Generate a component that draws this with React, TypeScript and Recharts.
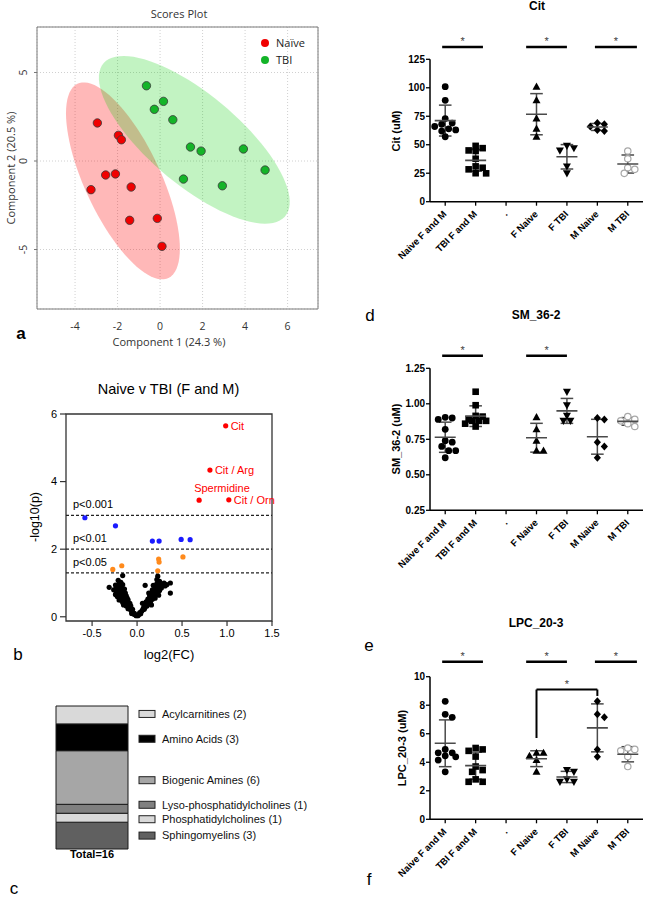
import React from "react";
import {
  ScatterChart,
  Scatter,
  XAxis,
  YAxis,
  CartesianGrid,
  ReferenceArea,
  ReferenceLine,
  ErrorBar,
  BarChart,
  Bar,
  LabelList,
} from "recharts";

const SANS = "'Liberation Sans', Arial, sans-serif";
const OPEN = "'Open Sans', 'Noto Sans', sans-serif";

// ---- a: PLS-DA scores (component 1 / component 2)
const naiveC1 = [-2.95, -1.96, -1.82, -2.56, -2.1, -3.25, -1.36, -1.43, -0.13, 0.09];
const naiveC2 = [2.15, 1.45, 1.2, -0.79, -0.73, -1.62, -1.47, -3.35, -3.24, -4.82];
const tbiC1 = [-0.64, 0.16, -0.27, 0.6, 1.43, 1.93, 3.92, 4.94, 1.1, 2.93];
const tbiC2 = [4.25, 3.37, 2.92, 2.33, 0.79, 0.56, 0.68, -0.51, -1.02, -1.4];

// ---- b: volcano, log2(FC) / -log10(p)
const hitNames = ["Cit", "Cit / Arg", "Spermidine", "Cit / Orn"];
const hitFC = [0.985, 0.81, 0.69, 1.02];
const hitP = [5.65, 4.34, 3.45, 3.46];
const p01FC = [-0.58, -0.24, 0.17, 0.245, 0.49, 0.59];
const p01P = [2.93, 2.69, 2.24, 2.24, 2.29, 2.28];
const p05FC = [-0.27, -0.17, 0.24, 0.245, 0.23, 0.51];
const p05P = [1.4, 1.51, 1.71, 1.62, 1.36, 1.77];
const nsPoints: [number, number][] = [
  [-0.01, 0.03], [-0.02, 0.06], [-0.03, 0.1], [-0.04, 0.08], [-0.05, 0.14], [-0.06, 0.18],
  [-0.05, 0.22], [-0.07, 0.2], [-0.08, 0.26], [-0.09, 0.3], [-0.1, 0.24], [-0.1, 0.35],
  [-0.11, 0.4], [-0.12, 0.32], [-0.12, 0.46], [-0.13, 0.38], [-0.13, 0.52], [-0.14, 0.44],
  [-0.14, 0.6], [-0.15, 0.5], [-0.15, 0.66], [-0.16, 0.42], [-0.16, 0.56], [-0.16, 0.72],
  [-0.17, 0.62], [-0.17, 0.8], [-0.18, 0.5], [-0.18, 0.68], [-0.18, 0.9], [-0.19, 0.58],
  [-0.19, 0.75], [-0.2, 0.64], [-0.2, 0.84], [-0.2, 0.98], [-0.21, 0.7], [-0.21, 1.08],
  [-0.22, 0.78], [-0.22, 0.6], [-0.23, 0.86], [-0.23, 0.72], [-0.24, 0.66], [-0.24, 0.94],
  [-0.16, 1.22], [-0.16, 0.95], [-0.14, 0.82], [-0.12, 0.62], [-0.1, 0.5], [-0.08, 0.4],
  [-0.31, 0.87], [-0.26, 0.8], [-0.13, 0.7], [-0.11, 0.55], [-0.07, 0.32], [-0.06, 0.1],
  [-0.15, 0.35], [-0.2, 0.5], [-0.18, 1.02], [-0.21, 0.9],
  [0.01, 0.03], [0.02, 0.07], [0.03, 0.12], [0.04, 0.09], [0.05, 0.16], [0.06, 0.2],
  [0.07, 0.26], [0.08, 0.22], [0.08, 0.32], [0.09, 0.28], [0.1, 0.36], [0.1, 0.44],
  [0.11, 0.32], [0.12, 0.42], [0.12, 0.52], [0.13, 0.38], [0.14, 0.5], [0.14, 0.62],
  [0.15, 0.45], [0.15, 0.7], [0.16, 0.58], [0.17, 0.52], [0.17, 0.8], [0.18, 0.66],
  [0.18, 0.93], [0.19, 0.6], [0.2, 0.74], [0.2, 0.86], [0.21, 0.68], [0.22, 0.8],
  [0.22, 0.98], [0.23, 1.2], [0.23, 0.72], [0.24, 0.88], [0.25, 1.05], [0.25, 0.78],
  [0.26, 0.95], [0.27, 0.85], [0.28, 0.92], [0.3, 1.0], [0.31, 0.91], [0.33, 0.95],
  [0.37, 1.0], [0.37, 0.7], [0.09, 0.93], [0.16, 0.35], [0.2, 0.55], [0.24, 0.64],
  [0.13, 0.7], [0.22, 1.1], [0.06, 0.4],
];
const pCutoffs = [0.001, 0.01, 0.05];

// ---- c: metabolite classes (bottom of stack first)
const classNames = [
  "Sphingomyelins",
  "Phosphatidylcholines",
  "Lyso-phosphatidylcholines",
  "Biogenic Amines",
  "Amino Acids",
  "Acylcarnitines",
];
const classCounts = [3, 1, 1, 6, 3, 2];
const classFill = ["#606060", "#d9d9d9", "#808080", "#a6a6a6", "#000000", "#d9d9d9"];
const classLabelShift = [0, 1.5, -4, 2.7, 1.5, -1];

// ---- d, e, f: concentrations (uM)
const CATS = ["Naive F and M", "TBI F and M", ".", "F Naive", "F TBI", "M Naive", "M TBI"];
const KINDS = ["circle", "square", "", "triUp", "triDown", "diamond", "open"];

const citFNaive = [101, 89, 73, 64, 57];
const citMNaive = [69, 68, 66, 63, 62];
const citFTbi = [49, 47, 45, 31, 25];
const citMTbi = [44.5, 37.7, 29.8, 28.4, 24.9];

const smFNaive = [0.905, 0.82, 0.74, 0.67, 0.67];
const smMNaive = [0.89, 0.9, 0.73, 0.7, 0.62];
const smFTbi = [1.085, 0.99, 0.915, 0.88, 0.88];
const smMTbi = [0.91, 0.89, 0.88, 0.86, 0.84];

const lpcFNaive = [4.66, 4.66, 4.45, 4.15, 3.33];
const lpcMNaive = [8.27, 7.36, 7.15, 4.9, 4.38];
const lpcFTbi = [3.45, 3.33, 2.8, 2.63, 2.63];
const lpcMTbi = [5.0, 4.9, 4.8, 4.4, 3.7];

const SIG_SPANS: [number, number][] = [[-0.1, 1.24], [2.66, 4.0], [4.92, 6.3]];

const toXY = (xs: number[], ys: number[]) => xs.map((x, i) => ({ x, y: ys[i] }));
const mean = (a: number[]) => a.reduce((s, v) => s + v, 0) / a.length;
const sd = (a: number[]) => {
  const m = mean(a);
  return Math.sqrt(a.reduce((s, v) => s + (v - m) ** 2, 0) / (a.length - 1));
};

// 95% confidence ellipse of a group of score points
function confEllipse(pts: { x: number; y: number }[], k = 2.4477, n = 90) {
  const m = pts.length;
  const mx = pts.reduce((s, p) => s + p.x, 0) / m;
  const my = pts.reduce((s, p) => s + p.y, 0) / m;
  let sxx = 0, syy = 0, sxy = 0;
  pts.forEach((p) => {
    sxx += (p.x - mx) ** 2;
    syy += (p.y - my) ** 2;
    sxy += (p.x - mx) * (p.y - my);
  });
  sxx /= m - 1; syy /= m - 1; sxy /= m - 1;
  const tr = sxx + syy;
  const det = sxx * syy - sxy * sxy;
  const disc = Math.sqrt(Math.max(tr * tr / 4 - det, 0));
  const l1 = tr / 2 + disc, l2 = tr / 2 - disc;
  const th = Math.atan2(l1 - sxx, sxy);
  const a = k * Math.sqrt(l1), b = k * Math.sqrt(Math.max(l2, 0));
  const out = [];
  for (let i = 0; i <= n; i++) {
    const t = (2 * Math.PI * i) / n;
    const u = a * Math.cos(t), v = b * Math.sin(t);
    out.push({ x: mx + u * Math.cos(th) - v * Math.sin(th), y: my + u * Math.sin(th) + v * Math.cos(th) });
  }
  return out;
}

// horizontal spread of points that would overlap (scatter dot plot style)
function swarm(vals: number[], pxY: number, pxX: number, size = 7, maxDx = 11) {
  const order = vals.map((_, i) => i).sort((a, b) => vals[b] - vals[a]);
  const placed: { dx: number; y: number }[] = [];
  const off = vals.map(() => 0);
  const step = size * 0.5;
  order.forEach((i) => {
    const y = vals[i] * pxY;
    let best = 0, bestD = -1;
    for (let k = 0; k < 40; k++) {
      const dx = k === 0 ? 0 : (k % 2 ? 1 : -1) * Math.ceil(k / 2) * step;
      if (Math.abs(dx) > maxDx) break;
      const dmin = placed.reduce((m, p) => Math.min(m, Math.hypot(p.dx - dx, p.y - y)), Infinity);
      if (dmin >= size * 0.85) { best = dx; break; }
      if (dmin > bestD) { bestD = dmin; best = dx; }
    }
    placed.push({ dx: best, y });
    off[i] = best / pxX;
  });
  return off;
}

const ellipseLine = (fill: string) => (props: any) => {
  const pts = props.points || [];
  const d = pts.map((p: any, i: number) => `${i ? "L" : "M"}${p.x},${p.y}`).join("") + "Z";
  return <path d={d} fill={fill} stroke="none" />;
};

const scoreDot = (fill: string) => (p: any) => (
  <circle cx={p.cx} cy={p.cy} r={4.2} fill={fill} stroke="#3a3a3a" strokeWidth={0.8} />
);

const volcanoDot = (fill: string) => (p: any) => <circle cx={p.cx} cy={p.cy} r={2.6} fill={fill} />;

const hitDot = (p: any) => {
  const above = p.payload.name === "Spermidine";
  return (
    <g>
      <circle cx={p.cx} cy={p.cy} r={2.6} fill="#ff0000" />
      <text
        x={above ? p.cx - 5 : p.cx + 5}
        y={above ? p.cy - 8 : p.cy + 4}
        fontSize={11}
        fontFamily={SANS}
        fill="#ff0000"
      >
        {p.payload.name}
      </text>
    </g>
  );
};

function ScoreYTick(props: any) {
  const { x, y, payload } = props;
  return (
    <text x={x - 5} y={y} transform={`rotate(-90 ${x - 5} ${y})`} textAnchor="middle" fontSize={10.5} fill="#333" fontFamily={OPEN}>
      {payload.value}
    </text>
  );
}

function CatTick(props: any) {
  const { x, y, payload } = props;
  const tx = x + 2, ty = y + 7;
  return (
    <text x={tx} y={ty} transform={`rotate(-45 ${tx} ${ty})`} textAnchor="end" fontSize={9.5} fontWeight={700} fontFamily={SANS} fill="#000">
      {CATS[payload.value]}
    </text>
  );
}

function markerShape(kind: string) {
  return (p: any) => {
    const { cx, cy } = p;
    switch (kind) {
      case "circle":
        return <circle cx={cx} cy={cy} r={3.4} fill="#000" />;
      case "square":
        return <rect x={cx - 3.3} y={cy - 3.3} width={6.6} height={6.6} fill="#000" />;
      case "triUp":
        return <polygon points={`${cx},${cy - 4.2} ${cx - 4},${cy + 3} ${cx + 4},${cy + 3}`} fill="#000" />;
      case "triDown":
        return <polygon points={`${cx},${cy + 4.2} ${cx - 4},${cy - 3} ${cx + 4},${cy - 3}`} fill="#000" />;
      case "diamond":
        return <polygon points={`${cx},${cy - 4} ${cx + 3.6},${cy} ${cx},${cy + 4} ${cx - 3.6},${cy}`} fill="#000" />;
      default:
        return <circle cx={cx} cy={cy} r={3.2} fill="#fff" stroke="#a8a8a8" strokeWidth={1.2} />;
    }
  };
}

const meanShape = (p: any) => (
  <line x1={p.cx - 10.5} x2={p.cx + 10.5} y1={p.cy} y2={p.cy} stroke="#4a4a4a" strokeWidth={1.6} />
);

const groupsOf = (fN: number[], mN: number[], fT: number[], mT: number[]) => [
  [...fN, ...mN], [...fT, ...mT], [], fN, fT, mN, mT,
];

interface PanelCfg {
  top: number;
  plotTop: number;
  plotBottom: number;
  domain: [number, number];
  ticks: number[];
  fmt: (v: number) => string;
  groups: number[][];
  sig: number[];
  sigGap: number;
  bracket?: { from: number; to: number; top: number; leftEnd: number; rightEnd: number };
}

const panels: PanelCfg[] = [
  {
    top: 0, plotTop: 59.3, plotBottom: 201.7, domain: [0, 125], ticks: [0, 25, 50, 75, 100, 125],
    fmt: (v) => String(v), groups: groupsOf(citFNaive, citMNaive, citFTbi, citMTbi), sig: [0, 1, 2], sigGap: 12.3,
  },
  {
    top: 300, plotTop: 368.3, plotBottom: 510.3, domain: [0.25, 1.25], ticks: [0.25, 0.5, 0.75, 1.0, 1.25],
    fmt: (v) => v.toFixed(2), groups: groupsOf(smFNaive, smMNaive, smFTbi, smMTbi), sig: [0, 1], sigGap: 12.6,
  },
  {
    top: 600, plotTop: 676.7, plotBottom: 819.3, domain: [0, 10], ticks: [0, 2, 4, 6, 8, 10],
    fmt: (v) => String(v), groups: groupsOf(lpcFNaive, lpcMNaive, lpcFTbi, lpcMTbi), sig: [0, 1, 2], sigGap: 15,
    bracket: { from: 3, to: 5, top: 9.1, leftEnd: 5.7, rightEnd: 8.65 },
  },
];

function DotPanel({ cfg }: { cfg: PanelCfg }) {
  const W = 325, AXW = 110, RIGHT = 2, XAH = 70, BOT = 4;
  const plotH = cfg.plotBottom - cfg.plotTop;
  const height = cfg.plotBottom - cfg.top + XAH + BOT;
  const pxY = plotH / (cfg.domain[1] - cfg.domain[0]);
  const pxX = (W - AXW - RIGHT) / CATS.length;
  const sigY = cfg.domain[1] + cfg.sigGap / pxY;
  const summary = cfg.groups
    .map((g, i) => (g.length ? { x: i, y: mean(g), sd: sd(g) } : null))
    .filter(Boolean);
  const starLabel = { value: "*", position: "top" as const, offset: 2, fontSize: 11, fill: "#444", fontFamily: SANS };
  const b = cfg.bracket;
  return (
    <div style={{ position: "absolute", left: 320, top: cfg.top }}>
      <ScatterChart width={W} height={height} margin={{ top: cfg.plotTop - cfg.top, right: RIGHT, bottom: BOT, left: 0 }}>
        <XAxis
          type="number"
          dataKey="x"
          domain={[-0.5, 6.5]}
          ticks={[0, 1, 2, 3, 4, 5, 6]}
          interval={0}
          allowDataOverflow
          height={XAH}
          tickSize={4}
          stroke="#000"
          axisLine={{ stroke: "#000", strokeWidth: 1.5 }}
          tickLine={{ stroke: "#000", strokeWidth: 1.3 }}
          tick={<CatTick />}
        />
        <YAxis
          type="number"
          dataKey="y"
          domain={cfg.domain}
          ticks={cfg.ticks}
          interval={0}
          allowDataOverflow
          width={AXW}
          tickSize={4}
          tickMargin={1}
          tickFormatter={cfg.fmt}
          axisLine={{ stroke: "#000", strokeWidth: 1.5 }}
          tickLine={{ stroke: "#000", strokeWidth: 1.3 }}
          tick={{ fontSize: 10, fontWeight: 700, fill: "#000", fontFamily: SANS }}
        />
        {cfg.groups.map((g, i) => {
          if (!g.length) return null;
          const off = swarm(g, pxY, pxX);
          return (
            <Scatter
              key={i}
              data={g.map((v, k) => ({ x: i + off[k], y: v }))}
              shape={markerShape(KINDS[i])}
              isAnimationActive={false}
            />
          );
        })}
        <Scatter data={summary as any[]} shape={meanShape} isAnimationActive={false}>
          <ErrorBar dataKey="sd" direction="y" width={6.3} stroke="#4a4a4a" strokeWidth={1.5} />
        </Scatter>
        {cfg.sig.map((s) => (
          <ReferenceLine
            key={s}
            segment={[{ x: SIG_SPANS[s][0], y: sigY }, { x: SIG_SPANS[s][1], y: sigY }]}
            stroke="#000"
            strokeWidth={2.5}
            ifOverflow="visible"
            label={starLabel}
          />
        ))}
        {b && (
          <ReferenceLine
            segment={[{ x: b.from, y: b.leftEnd }, { x: b.from, y: b.top }]}
            stroke="#000"
            strokeWidth={2}
            ifOverflow="visible"
          />
        )}
        {b && (
          <ReferenceLine
            segment={[{ x: b.from, y: b.top }, { x: b.to, y: b.top }]}
            stroke="#000"
            strokeWidth={2}
            ifOverflow="visible"
            label={starLabel}
          />
        )}
        {b && (
          <ReferenceLine
            segment={[{ x: b.to, y: b.top }, { x: b.to, y: b.rightEnd }]}
            stroke="#000"
            strokeWidth={2}
            ifOverflow="visible"
          />
        )}
      </ScatterChart>
    </div>
  );
}

function Txt({
  x, y, children, size = 11, weight = 400, color = "#000", font = SANS, rotate = false,
}: {
  x: number; y: number; children: React.ReactNode; size?: number; weight?: number; color?: string; font?: string; rotate?: boolean;
}) {
  return (
    <div
      style={{
        position: "absolute",
        left: x,
        top: y,
        transform: `translate(-50%, -50%)${rotate ? " rotate(-90deg)" : ""}`,
        fontSize: size,
        fontWeight: weight,
        color,
        fontFamily: font,
        whiteSpace: "nowrap",
        lineHeight: 1,
      }}
    >
      {children}
    </div>
  );
}

export default function App() {
  const naivePts = toXY(naiveC1, naiveC2);
  const tbiPts = toXY(tbiC1, tbiC2);
  const hits = hitFC.map((x, i) => ({ x, y: hitP[i], name: hitNames[i] }));
  const p01 = toXY(p01FC, p01P);
  const p05 = toXY(p05FC, p05P);
  const ns = nsPoints.map(([x, y]) => ({ x, y }));
  const total = classCounts.reduce((s, v) => s + v, 0);
  const classRow: Record<string, any>[] = [
    { name: `Total=${total}`, ...Object.fromEntries(classNames.map((n, i) => [n, classCounts[i]])) },
  ];

  return (
    <div style={{ position: "absolute", left: 0, top: 0, width: 645, height: 897, background: "#fff", overflow: "hidden" }}>
      {/* a */}
      <div style={{ position: "absolute", left: 0, top: 0 }}>
        <ScatterChart width={322} height={350} margin={{ top: 27, right: 4, bottom: 1, left: 0 }}>
          <CartesianGrid strokeDasharray="1 2" stroke="#d0d0d0" />
          <XAxis
            type="number"
            dataKey="x"
            domain={[-5.79, 7.43]}
            ticks={[-4, -2, 0, 2, 4, 6]}
            allowDataOverflow
            height={40}
            axisLine={false}
            tickLine={false}
            tickMargin={8}
            tick={{ fontSize: 10.5, fill: "#333", fontFamily: OPEN }}
          />
          <YAxis
            type="number"
            dataKey="y"
            domain={[-8.36, 7.57]}
            ticks={[-5, 0, 5]}
            allowDataOverflow
            width={37}
            axisLine={false}
            tickSize={3}
            tickMargin={2}
            tickLine={{ stroke: "#777" }}
            tick={<ScoreYTick />}
          />
          <ReferenceArea x1={-5.79} x2={7.43} y1={-8.36} y2={7.57} fill="none" stroke="#7a7a7a" strokeWidth={1} ifOverflow="visible" />
          <Scatter data={confEllipse(naivePts)} line={ellipseLine("rgba(255,0,0,0.28)")} shape={() => <g />} isAnimationActive={false} />
          <Scatter data={confEllipse(tbiPts)} line={ellipseLine("rgba(0,205,0,0.24)")} shape={() => <g />} isAnimationActive={false} />
          <Scatter data={naivePts} shape={scoreDot("#f00000")} isAnimationActive={false} />
          <Scatter data={tbiPts} shape={scoreDot("#14b428")} isAnimationActive={false} />
        </ScatterChart>
      </div>
      <Txt x={179} y={13} font={OPEN} color="#333">Scores Plot</Txt>
      <Txt x={9.5} y={168} font={OPEN} color="#333" rotate>Component 2 (20.5 %)</Txt>
      <Txt x={169} y={341} font={OPEN} color="#333">Component 1 (24.3 %)</Txt>
      <div style={{ position: "absolute", left: 261, top: 39, width: 8, height: 8, borderRadius: 4, background: "#f00000" }} />
      <div style={{ position: "absolute", left: 261, top: 56, width: 8, height: 8, borderRadius: 4, background: "#14b428" }} />
      <div style={{ position: "absolute", left: 276, top: 36, fontSize: 11, fontFamily: OPEN, color: "#222", lineHeight: "14px" }}>Naïve</div>
      <div style={{ position: "absolute", left: 276, top: 53, fontSize: 11, fontFamily: OPEN, color: "#222", lineHeight: "14px" }}>TBI</div>
      <Txt x={21} y={333} size={17} weight={700}>a</Txt>

      {/* b */}
      <div style={{ position: "absolute", left: 0, top: 380 }}>
        <ScatterChart width={320} height={290} margin={{ top: 34, right: 48, bottom: 19, left: 0 }}>
          <XAxis
            type="number"
            dataKey="x"
            domain={[-0.79, 1.5]}
            ticks={[-0.5, 0, 0.5, 1, 1.5]}
            interval={0}
            tickFormatter={(v: number) => v.toFixed(1)}
            height={30}
            axisLine={false}
            tickSize={5}
            tickMargin={3}
            tickLine={{ stroke: "#333", strokeWidth: 1.2 }}
            tick={{ fontSize: 11, fill: "#000", fontFamily: SANS }}
          />
          <YAxis
            type="number"
            dataKey="y"
            domain={[-0.125, 6]}
            ticks={[0, 2, 4, 6]}
            interval={0}
            width={66}
            axisLine={false}
            tickSize={6}
            tickMargin={3}
            tickLine={{ stroke: "#333", strokeWidth: 1.2 }}
            tick={{ fontSize: 11, fill: "#000", fontFamily: SANS }}
          />
          <ReferenceArea x1={-0.79} x2={1.5} y1={-0.125} y2={6} fill="none" stroke="#333" strokeWidth={1.3} ifOverflow="visible" />
          {pCutoffs.map((p) => (
            <ReferenceLine
              key={p}
              y={-Math.log10(p)}
              stroke="#222"
              strokeWidth={1.2}
              strokeDasharray="3 2"
              label={{ value: `p<${p}`, position: "insideBottomLeft", offset: 7, fontSize: 11, fill: "#000", fontFamily: SANS }}
            />
          ))}
          <Scatter data={ns} shape={volcanoDot("#000")} isAnimationActive={false} />
          <Scatter data={p05} shape={volcanoDot("#ff8a1c")} isAnimationActive={false} />
          <Scatter data={p01} shape={volcanoDot("#1a1aff")} isAnimationActive={false} />
          <Scatter data={hits} shape={hitDot} isAnimationActive={false} />
        </ScatterChart>
      </div>
      <Txt x={168.5} y={389} size={14.5}>Naive v TBI (F and M)</Txt>
      <Txt x={35} y={517} size={12.5} rotate>-log10(p)</Txt>
      <Txt x={169} y={654} size={13}>log2(FC)</Txt>
      <Txt x={18} y={654} size={17}>b</Txt>

      {/* c */}
      <div style={{ position: "absolute", left: 0, top: 700 }}>
        <BarChart width={320} height={170} data={classRow} margin={{ top: 6, right: 192, bottom: 3, left: 56 }} barCategoryGap={0}>
          <XAxis
            dataKey="name"
            height={18}
            axisLine={false}
            tickLine={false}
            tickSize={0}
            tickMargin={1}
            tick={{ fontSize: 11, fontWeight: 700, fill: "#000", fontFamily: SANS }}
          />
          <YAxis hide domain={[0, total]} />
          {classNames.map((n, i) => (
            <Bar key={n} dataKey={n} stackId="c" fill={classFill[i]} stroke="#1a1a1a" strokeWidth={1} isAnimationActive={false}>
              <LabelList
                dataKey={n}
                content={(p: any) => {
                  const cy = p.y + p.height / 2 + classLabelShift[i];
                  const x0 = p.x + p.width + 11;
                  return (
                    <g>
                      <rect x={x0} y={cy - 3.5} width={16} height={7} fill={classFill[i]} stroke="#222" strokeWidth={1} />
                      <text x={x0 + 23} y={cy} dy="0.35em" fontSize={11} fontFamily={SANS} fill="#111">
                        {`${n} (${classCounts[i]})`}
                      </text>
                    </g>
                  );
                }}
              />
            </Bar>
          ))}
        </BarChart>
      </div>
      <Txt x={14} y={888} size={17}>c</Txt>

      {/* d, e, f */}
      {panels.map((cfg, i) => (
        <DotPanel key={i} cfg={cfg} />
      ))}
      <Txt x={537} y={6} size={12} weight={700}>Cit</Txt>
      <Txt x={536} y={315} size={12} weight={700}>SM_36-2</Txt>
      <Txt x={536} y={623} size={12} weight={700}>LPC_20-3</Txt>
      <Txt x={396} y={130.5} size={11} weight={700} rotate>Cit (uM)</Txt>
      <Txt x={396} y={439.3} size={11} weight={700} rotate>SM_36-2 (uM)</Txt>
      <Txt x={401.5} y={748} size={11} weight={700} rotate>LPC_20-3 (uM)</Txt>
      <Txt x={370} y={315} size={17}>d</Txt>
      <Txt x={369} y={645} size={17}>e</Txt>
      <Txt x={369} y={879} size={17}>f</Txt>
    </div>
  );
}
